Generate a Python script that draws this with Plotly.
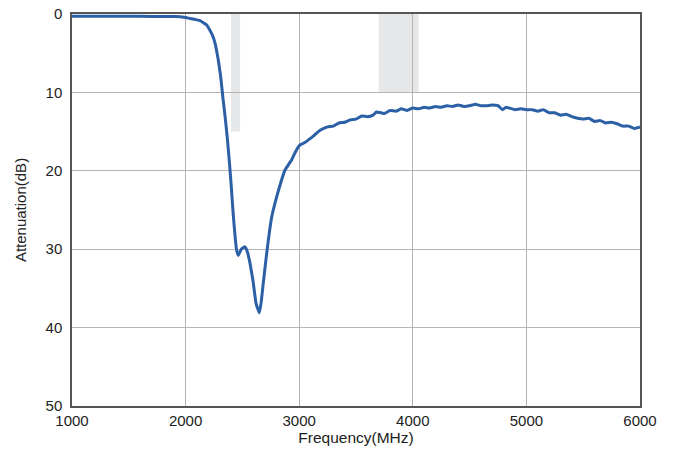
import plotly.graph_objects as go

# measured attenuation curve (MHz, dB)
freq_mhz = [
    1000, 1200, 1400, 1600, 1800, 1900, 1951, 2000, 2050, 2100, 2127, 2186,
    2230, 2259, 2288, 2309, 2327, 2347, 2367, 2385, 2402, 2418, 2435, 2450,
    2464, 2490, 2523, 2545, 2567, 2593, 2620, 2649, 2665, 2684, 2714, 2758,
    2802, 2840, 2875, 2934, 2970, 3007, 3050, 3095, 3130, 3168, 3200, 3250,
    3300, 3350, 3400, 3450, 3500, 3550, 3600, 3650, 3680, 3720, 3750, 3800,
    3850, 3900, 3950, 4000, 4050, 4100, 4150, 4200, 4250, 4300, 4350, 4400,
    4450, 4500, 4550, 4600, 4650, 4700, 4750, 4790, 4820, 4850, 4900, 4950,
    5000, 5050, 5100, 5150, 5200, 5250, 5300, 5350, 5400, 5450, 5500, 5550,
    5600, 5650, 5700, 5750, 5800, 5850, 5900, 5950, 6000,
]
atten_db = [
    0.3, 0.3, 0.3, 0.3, 0.32, 0.33, 0.34, 0.45, 0.6, 0.75, 0.85, 1.4,
    2.5, 3.7, 5.9, 8.0, 10.5, 13.0, 15.8, 18.8, 22.0, 25.3, 28.3, 30.2,
    30.8, 30.0, 29.7, 30.4, 31.8, 34.0, 36.9, 38.1, 36.8, 34.3, 30.5, 25.9,
    23.3, 21.4, 19.9, 18.6, 17.5, 16.7, 16.4, 15.9, 15.5, 15.0, 14.7, 14.4,
    14.3, 13.9, 13.8, 13.5, 13.4, 13.0, 13.1, 12.9, 12.5, 12.6, 12.7, 12.3,
    12.4, 12.1, 12.3, 12.0, 12.1, 11.9, 12.0, 11.8, 11.9, 11.7, 11.8, 11.6,
    11.8, 11.7, 11.5, 11.7, 11.7, 11.6, 11.7, 12.2, 11.9, 12.0, 12.2, 12.1,
    12.2, 12.2, 12.4, 12.2, 12.6, 12.6, 12.9, 12.8, 13.1, 13.3, 13.4, 13.3,
    13.7, 13.6, 13.9, 13.8, 14.0, 14.3, 14.3, 14.6, 14.4,
]

# shaded bands: (start MHz, end MHz, depth dB)
band_start = [2400, 3700]
band_end = [2480, 4050]
band_depth = [15, 10]

x_ticks = [1000, 2000, 3000, 4000, 5000, 6000]
y_ticks = [0, 10, 20, 30, 40, 50]

font_family = "Liberation Sans, Arial, Helvetica, sans-serif"

fig = go.Figure()

for x0, x1, d in zip(band_start, band_end, band_depth):
    fig.add_shape(
        type="rect", xref="x", yref="y",
        x0=x0, x1=x1, y0=0, y1=d,
        fillcolor="#e6e7e9", line_width=0, layer="below",
    )

fig.add_trace(
    go.Scatter(
        x=freq_mhz,
        y=atten_db,
        mode="lines",
        line=dict(color="#2b5fa6", width=3, shape="spline", smoothing=0.3),
        showlegend=False,
    )
)

fig.update_layout(
    width=675,
    height=454,
    margin=dict(l=72, r=35, t=14, b=48),
    paper_bgcolor="white",
    plot_bgcolor="rgba(0,0,0,0)",
    font=dict(family=font_family, size=15, color="#222222"),
    xaxis=dict(
        range=[1000, 6000],
        tickvals=x_ticks,
        ticktext=[str(v) for v in x_ticks],
        showgrid=True,
        gridcolor="#b4b4b4",
        gridwidth=1,
        showline=True,
        linecolor="#555555",
        linewidth=1.5,
        mirror=True,
        zeroline=False,
        ticks="",
        automargin=False,
        title=dict(text="Frequency(MHz)", font=dict(size=15.5), standoff=2),
    ),
    yaxis=dict(
        range=[50, 0],
        tickvals=y_ticks,
        ticktext=[str(v) for v in y_ticks],
        showgrid=True,
        gridcolor="#b4b4b4",
        gridwidth=1,
        showline=True,
        linecolor="#555555",
        linewidth=1.5,
        mirror=True,
        zeroline=False,
        ticks="",
        ticklabelstandoff=5,
        automargin=False,
        title=dict(text="Attenuation(dB)", font=dict(size=15)),
    ),
)

fig.write_html(
    "out.html",
    config={"displayModeBar": False},
    post_script="document.body.style.margin='0';",
)
